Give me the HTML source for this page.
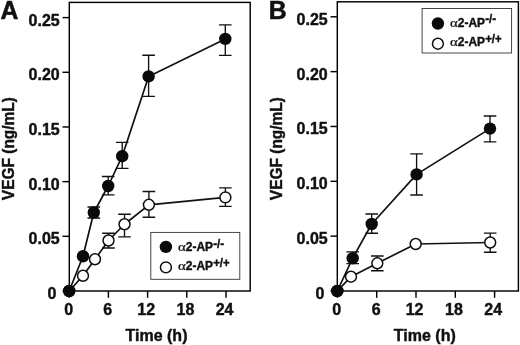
<!DOCTYPE html>
<html><head><meta charset="utf-8"><title>VEGF</title>
<style>
html,body{margin:0;padding:0;background:#fff;}
svg{display:block;will-change:transform;}
#g{filter:blur(0.45px);}
text{stroke:#111;stroke-width:0.42px;stroke-linejoin:round;}
.t{font:bold 15.7px "Liberation Sans",sans-serif;fill:#111;}
.l{font:bold 12.4px "Liberation Sans",sans-serif;fill:#111;}
.a{font:normal 12.4px "Liberation Serif",serif;fill:#111;stroke-width:0.25px;}
.s{font-size:11.9px;}
.l{stroke-width:0.4px;}
.p{stroke-width:0.55px;}
.p{font:bold 25.2px "Liberation Sans",sans-serif;fill:#111;}
</style></head><body>
<svg width="520" height="345" viewBox="0 0 520 345">
<rect width="520" height="345" fill="#fff"/>
<g id="g">
<rect x="69.3" y="2.4" width="180.9" height="288.6" fill="none" stroke="#000" stroke-width="1.45"/>
<line x1="62.5" y1="291" x2="69.3" y2="291" stroke="#000" stroke-width="1.45"/>
<text transform="translate(56.4,299) scale(1.02,1)" text-anchor="end" class="t">0</text>
<line x1="62.5" y1="236.32" x2="69.3" y2="236.32" stroke="#000" stroke-width="1.45"/>
<text transform="translate(59.7,244.32) scale(1.02,1)" text-anchor="end" class="t">0.05</text>
<line x1="62.5" y1="181.64" x2="69.3" y2="181.64" stroke="#000" stroke-width="1.45"/>
<text transform="translate(59.7,189.64) scale(1.02,1)" text-anchor="end" class="t">0.10</text>
<line x1="62.5" y1="126.96" x2="69.3" y2="126.96" stroke="#000" stroke-width="1.45"/>
<text transform="translate(59.7,134.96) scale(1.02,1)" text-anchor="end" class="t">0.15</text>
<line x1="62.5" y1="72.28" x2="69.3" y2="72.28" stroke="#000" stroke-width="1.45"/>
<text transform="translate(59.7,80.28) scale(1.02,1)" text-anchor="end" class="t">0.20</text>
<line x1="62.5" y1="17.6" x2="69.3" y2="17.6" stroke="#000" stroke-width="1.45"/>
<text transform="translate(59.7,25.6) scale(1.02,1)" text-anchor="end" class="t">0.25</text>
<line x1="69.2" y1="291" x2="69.2" y2="297.8" stroke="#000" stroke-width="1.45"/>
<text transform="translate(68.6,315.1) scale(1.02,1)" text-anchor="middle" class="t">0</text>
<line x1="108.4" y1="291" x2="108.4" y2="297.8" stroke="#000" stroke-width="1.45"/>
<text transform="translate(107.8,315.1) scale(1.02,1)" text-anchor="middle" class="t">6</text>
<line x1="147.6" y1="291" x2="147.6" y2="297.8" stroke="#000" stroke-width="1.45"/>
<text transform="translate(146.2,315.1) scale(1.02,1)" text-anchor="middle" class="t">12</text>
<line x1="186.8" y1="291" x2="186.8" y2="297.8" stroke="#000" stroke-width="1.45"/>
<text transform="translate(185.4,315.1) scale(1.02,1)" text-anchor="middle" class="t">18</text>
<line x1="226" y1="291" x2="226" y2="297.8" stroke="#000" stroke-width="1.45"/>
<text transform="translate(224.6,315.1) scale(1.02,1)" text-anchor="middle" class="t">24</text>
<polyline points="69.2,291 83,275.75 95,259.25 108.5,240.5 124.5,224.25 148.9,204.8 225.4,197.4" fill="none" stroke="#111" stroke-width="1.7" stroke-linejoin="round"/>
<path d="M108.5 233.2V248M102.2 233.2H114.8M102.2 248H114.8" stroke="#111" stroke-width="1.35" fill="none"/>
<path d="M124.5 214.2V236.8M118.2 214.2H130.8M118.2 236.8H130.8" stroke="#111" stroke-width="1.35" fill="none"/>
<path d="M148.9 191.5V217.2M142.6 191.5H155.2M142.6 217.2H155.2" stroke="#111" stroke-width="1.35" fill="none"/>
<path d="M225.4 187.9V206.4M219.1 187.9H231.7M219.1 206.4H231.7" stroke="#111" stroke-width="1.35" fill="none"/>
<circle cx="69.2" cy="291" r="5.45" fill="#fff" stroke="#111" stroke-width="1.5"/>
<circle cx="83" cy="275.75" r="5.45" fill="#fff" stroke="#111" stroke-width="1.5"/>
<circle cx="95" cy="259.25" r="5.45" fill="#fff" stroke="#111" stroke-width="1.5"/>
<circle cx="108.5" cy="240.5" r="5.45" fill="#fff" stroke="#111" stroke-width="1.5"/>
<circle cx="124.5" cy="224.25" r="5.45" fill="#fff" stroke="#111" stroke-width="1.5"/>
<circle cx="148.9" cy="204.8" r="5.45" fill="#fff" stroke="#111" stroke-width="1.5"/>
<circle cx="225.4" cy="197.4" r="5.45" fill="#fff" stroke="#111" stroke-width="1.5"/>
<polyline points="69.2,291 83,256.25 93.8,212.5 108.2,186 122.2,156.2 148.6,76.4 225.3,38.9" fill="none" stroke="#111" stroke-width="1.7" stroke-linejoin="round"/>
<path d="M93.8 207V218M87.5 207H100.1M87.5 218H100.1" stroke="#111" stroke-width="1.35" fill="none"/>
<path d="M108.2 176.5V194.8M101.9 176.5H114.5M101.9 194.8H114.5" stroke="#111" stroke-width="1.35" fill="none"/>
<path d="M122.2 142.3V168.4M115.9 142.3H128.5M115.9 168.4H128.5" stroke="#111" stroke-width="1.35" fill="none"/>
<path d="M148.6 55.2V96.4M142.3 55.2H154.9M142.3 96.4H154.9" stroke="#111" stroke-width="1.35" fill="none"/>
<path d="M225.3 24.9V55.4M219 24.9H231.6M219 55.4H231.6" stroke="#111" stroke-width="1.35" fill="none"/>
<circle cx="69.2" cy="291" r="6.2" fill="#0a0a0a"/>
<circle cx="83" cy="256.25" r="6.2" fill="#0a0a0a"/>
<circle cx="93.8" cy="212.5" r="6.2" fill="#0a0a0a"/>
<circle cx="108.2" cy="186" r="6.2" fill="#0a0a0a"/>
<circle cx="122.2" cy="156.2" r="6.2" fill="#0a0a0a"/>
<circle cx="148.6" cy="76.4" r="6.2" fill="#0a0a0a"/>
<circle cx="225.3" cy="38.9" r="6.2" fill="#0a0a0a"/>
<rect x="150.8" y="232.4" width="89" height="46.9" fill="#fff" stroke="#333" stroke-width="0.9"/>
<circle cx="165.9" cy="246.9" r="6.2" fill="#0a0a0a"/>
<circle cx="165.9" cy="267.4" r="5.45" fill="#fff" stroke="#111" stroke-width="1.5"/>
<text transform="translate(178,250.7) scale(1.2,1)" class="a">α</text>
<text transform="translate(185.8,250.7) scale(0.965,1)" class="l">2-AP<tspan class="s" dx="0.1" dy="-3.2">-/-</tspan></text>
<text transform="translate(178,270.1) scale(1.2,1)" class="a">α</text>
<text transform="translate(185.8,270.1) scale(0.965,1)" class="l">2-AP<tspan class="s" dx="0.1" dy="-3.2">+/+</tspan></text>
<text transform="translate(0.5,18.5) scale(0.985,1)" class="p">A</text>
<rect x="337.3" y="1.8" width="181.1" height="289.2" fill="none" stroke="#000" stroke-width="1.45"/>
<line x1="330.5" y1="291" x2="337.3" y2="291" stroke="#000" stroke-width="1.45"/>
<text transform="translate(324.4,299) scale(1.02,1)" text-anchor="end" class="t">0</text>
<line x1="330.5" y1="236.16" x2="337.3" y2="236.16" stroke="#000" stroke-width="1.45"/>
<text transform="translate(327.7,244.16) scale(1.02,1)" text-anchor="end" class="t">0.05</text>
<line x1="330.5" y1="181.32" x2="337.3" y2="181.32" stroke="#000" stroke-width="1.45"/>
<text transform="translate(327.7,189.32) scale(1.02,1)" text-anchor="end" class="t">0.10</text>
<line x1="330.5" y1="126.48" x2="337.3" y2="126.48" stroke="#000" stroke-width="1.45"/>
<text transform="translate(327.7,134.48) scale(1.02,1)" text-anchor="end" class="t">0.15</text>
<line x1="330.5" y1="71.64" x2="337.3" y2="71.64" stroke="#000" stroke-width="1.45"/>
<text transform="translate(327.7,79.64) scale(1.02,1)" text-anchor="end" class="t">0.20</text>
<line x1="330.5" y1="16.8" x2="337.3" y2="16.8" stroke="#000" stroke-width="1.45"/>
<text transform="translate(327.7,24.8) scale(1.02,1)" text-anchor="end" class="t">0.25</text>
<line x1="337.4" y1="291" x2="337.4" y2="297.8" stroke="#000" stroke-width="1.45"/>
<text transform="translate(336.8,315.1) scale(1.02,1)" text-anchor="middle" class="t">0</text>
<line x1="376.7" y1="291" x2="376.7" y2="297.8" stroke="#000" stroke-width="1.45"/>
<text transform="translate(376.1,315.1) scale(1.02,1)" text-anchor="middle" class="t">6</text>
<line x1="416" y1="291" x2="416" y2="297.8" stroke="#000" stroke-width="1.45"/>
<text transform="translate(414.6,315.1) scale(1.02,1)" text-anchor="middle" class="t">12</text>
<line x1="455.3" y1="291" x2="455.3" y2="297.8" stroke="#000" stroke-width="1.45"/>
<text transform="translate(453.9,315.1) scale(1.02,1)" text-anchor="middle" class="t">18</text>
<line x1="494.6" y1="291" x2="494.6" y2="297.8" stroke="#000" stroke-width="1.45"/>
<text transform="translate(493.2,315.1) scale(1.02,1)" text-anchor="middle" class="t">24</text>
<polyline points="337.3,291 351,276.7 377.3,263.3 415.7,244 490.2,242.5" fill="none" stroke="#111" stroke-width="1.7" stroke-linejoin="round"/>
<path d="M377.3 256V270.7M371 256H383.6M371 270.7H383.6" stroke="#111" stroke-width="1.35" fill="none"/>
<path d="M490.2 233.1V252.2M483.9 233.1H496.5M483.9 252.2H496.5" stroke="#111" stroke-width="1.35" fill="none"/>
<circle cx="337.3" cy="291" r="5.45" fill="#fff" stroke="#111" stroke-width="1.5"/>
<circle cx="351" cy="276.7" r="5.45" fill="#fff" stroke="#111" stroke-width="1.5"/>
<circle cx="377.3" cy="263.3" r="5.45" fill="#fff" stroke="#111" stroke-width="1.5"/>
<circle cx="415.7" cy="244" r="5.45" fill="#fff" stroke="#111" stroke-width="1.5"/>
<circle cx="490.2" cy="242.5" r="5.45" fill="#fff" stroke="#111" stroke-width="1.5"/>
<polyline points="337.3,291 352.7,258.2 371.7,224 416.6,174.4 490,128.6" fill="none" stroke="#111" stroke-width="1.7" stroke-linejoin="round"/>
<path d="M352.7 251.8V263.6M346.4 251.8H359M346.4 263.6H359" stroke="#111" stroke-width="1.35" fill="none"/>
<path d="M371.7 214V233.2M365.4 214H378M365.4 233.2H378" stroke="#111" stroke-width="1.35" fill="none"/>
<path d="M416.6 153.8V195M410.3 153.8H422.9M410.3 195H422.9" stroke="#111" stroke-width="1.35" fill="none"/>
<path d="M490 116V141.9M483.7 116H496.3M483.7 141.9H496.3" stroke="#111" stroke-width="1.35" fill="none"/>
<circle cx="337.3" cy="291" r="6.2" fill="#0a0a0a"/>
<circle cx="352.7" cy="258.2" r="6.2" fill="#0a0a0a"/>
<circle cx="371.7" cy="224" r="6.2" fill="#0a0a0a"/>
<circle cx="416.6" cy="174.4" r="6.2" fill="#0a0a0a"/>
<circle cx="490" cy="128.6" r="6.2" fill="#0a0a0a"/>
<rect x="422.1" y="8.5" width="89.5" height="44.5" fill="#fff" stroke="#333" stroke-width="0.9"/>
<circle cx="437.9" cy="23.5" r="6.2" fill="#0a0a0a"/>
<circle cx="437.9" cy="43.7" r="5.45" fill="#fff" stroke="#111" stroke-width="1.5"/>
<text transform="translate(450,26.6) scale(1.2,1)" class="a">α</text>
<text transform="translate(457.8,26.6) scale(0.965,1)" class="l">2-AP<tspan class="s" dx="0.1" dy="-3.2">-/-</tspan></text>
<text transform="translate(450,46.2) scale(1.2,1)" class="a">α</text>
<text transform="translate(457.8,46.2) scale(0.965,1)" class="l">2-AP<tspan class="s" dx="0.1" dy="-3.2">+/+</tspan></text>
<text transform="translate(268.8,18.5) scale(0.985,1)" class="p">B</text>
<text transform="translate(14,148.6) rotate(-90) scale(0.985,1)" text-anchor="middle" class="t v">VEGF (ng/mL)</text>
<text transform="translate(281.9,148.6) rotate(-90) scale(0.985,1)" text-anchor="middle" class="t v">VEGF (ng/mL)</text>
<text transform="translate(156.5,340.6) scale(1.02,1)" text-anchor="middle" class="t w">Time (h)</text>
<text transform="translate(424.8,340.6) scale(1.02,1)" text-anchor="middle" class="t w">Time (h)</text>
</g>
</svg>
</body></html>
